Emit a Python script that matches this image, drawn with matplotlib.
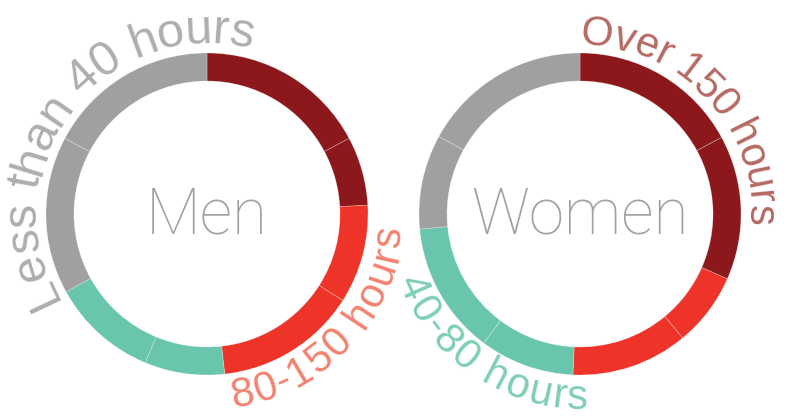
import numpy as np
import matplotlib
matplotlib.use("Agg")
import matplotlib.pyplot as plt
from matplotlib.font_manager import FontProperties, findfont, get_font

# data: share of each group (percent), two sub-parts per category
categories = ["Over 150 hours", "80-150 hours", "40-80 hours", "Less than 40 hours"]
men_part1 = [17.2, 9.9, 8.0, 15.8]
men_part2 = [6.9, 14.2, 10.7, 17.2]
women_part1 = [17.1, 7.4, 9.5, 9.5]
women_part2 = [14.5, 11.7, 13.3, 17.0]
groups = ["Men", "Women"]

ring_colors = ["#8C181C", "#EE3429", "#69C6AD", "#A0A0A0"]
label_colors = ["#B56A63", "#F4826F", "#7DCFB4", "#AEAEAE"]

W, H = 788, 416
centers = [(207, H - 214), (580, H - 214)]
R_OUT, WIDTH = 161, 28


def interleave(a, b):
    vals, cols = [], []
    for i in range(len(a)):
        vals += [a[i], b[i]]
        cols += [ring_colors[i], ring_colors[i]]
    return vals, cols


def arc_text(ax, text, center, r, a_first, a_last, color, size=30, flip=False):
    """characters along a circle; angles in degrees clockwise from top,
    a_first/a_last = centre of first/last character"""
    fp = FontProperties(family="Liberation Sans", size=size)
    font = get_font(findfont(fp))
    font.set_size(size, 100)
    adv = []
    for ch in text:
        g = font.load_char(ord(ch))
        adv.append(g.linearHoriAdvance / 65536)
    adv = np.array(adv)
    pos = np.cumsum(adv) - adv / 2
    t = (pos - pos[0]) / (pos[-1] - pos[0])
    angles = a_first + t * (a_last - a_first)
    cx, cy = center
    for ch, a in zip(text, angles):
        if ch == " ":
            continue
        th = np.radians(a)
        x = cx + r * np.sin(th)
        y = cy + r * np.cos(th)
        rot = 180 - a if flip else -a
        ax.text(x, y, ch, fontproperties=fp, color=color, rotation=rot,
                rotation_mode="anchor", ha="center", va="baseline")


fig = plt.figure(figsize=(W / 100, H / 100), dpi=100)
ax = fig.add_axes([0, 0, 1, 1])

for (p1, p2), c in zip([(men_part1, men_part2), (women_part1, women_part2)], centers):
    vals, cols = interleave(p1, p2)
    ax.pie(vals, colors=cols, startangle=90, counterclock=False, center=c,
           radius=R_OUT, frame=True,
           wedgeprops=dict(width=WIDTH, edgecolor=(1, 1, 1, 0.35), linewidth=0.5))

for name, (cx, cy) in zip(groups, centers):
    ax.text(cx, H - 233, name, fontsize=46, color="#A0A0A0", ha="center",
            va="baseline", family="Roboto", fontweight="light")

# curved category labels
arc_text(ax, categories[3], centers[0], 171, 244.7, 371.0, label_colors[3], size=35)
arc_text(ax, categories[1], centers[0], 195, 168.9, 97.1, label_colors[1], flip=True)
arc_text(ax, categories[0], centers[1], 169, 5.6, 90.3, label_colors[0])
arc_text(ax, categories[2], centers[1], 195, 246.2, 180.9, label_colors[2], flip=True)

ax.set_xlim(0, W)
ax.set_ylim(0, H)
ax.set_aspect("equal")
ax.axis("off")

fig.savefig("out.png", dpi=100, facecolor="white")
